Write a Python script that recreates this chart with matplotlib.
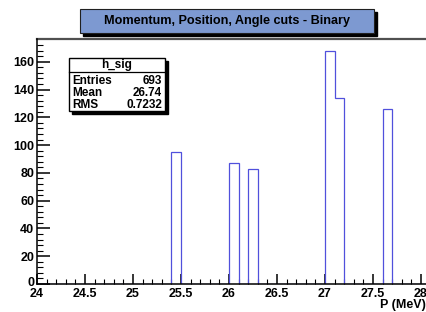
import numpy as np
import matplotlib
matplotlib.use("Agg")
import matplotlib.pyplot as plt
import matplotlib.transforms as mtransforms
from matplotlib.patches import Rectangle

plt.rcParams['font.family'] = ['Liberation Sans', 'DejaVu Sans']
plt.rcParams['font.weight'] = 'bold'

# histogram data (bins of 0.1 MeV, only the non-empty ones)
bin_low = [25.4, 26.0, 26.2, 27.0, 27.1, 27.6]
counts = [95, 87, 83, 168, 134, 126]
title = "Momentum, Position, Angle cuts - Binary"
stats_name = "h_sig"
stats_rows = [("Entries", "693"), ("Mean", "26.74"), ("RMS", "0.7232")]

W, H = 427, 312
fig = plt.figure(figsize=(W / 100, H / 100), dpi=100)
fig.patch.set_facecolor('white')

def px(x, y, w, h):
    # pixel box (top-left origin) -> figure fraction
    return [x / W, 1 - (y + h) / H, w / W, h / H]

x0, xtop, xbot = 37, 39, 284
ppu = 96.0
xmax = 28.15
ax = fig.add_axes(px(x0, xtop, (xmax - 24) * ppu, xbot - xtop))
ymax = 1.05 * max(counts)

edges = np.round(np.arange(24.0, xmax + 0.05, 0.1), 2)
full = np.zeros(len(edges) - 1)
for lo, c in zip(bin_low, counts):
    full[int(round((lo - 24.0) / 0.1))] = c
ax.stairs(full, edges, color='#5050dc', linewidth=0.9, zorder=2)

ax.set_xlim(24, xmax)
ax.set_ylim(0, ymax)

ax.spines['right'].set_visible(False)
ax.spines['top'].set_color('#505050')
ax.spines['top'].set_linewidth(1.6)
for s in ['left', 'bottom']:
    ax.spines[s].set_linewidth(1.1)
    ax.spines[s].set_zorder(3)

ax.set_xticks(np.arange(24, 28.01, 0.5))
ax.set_xticklabels(['24', '24.5', '25', '25.5', '26', '26.5', '27', '27.5', '28'])
ax.set_xticks(np.arange(24, 28.11, 0.1), minor=True)
ax.set_yticks(np.arange(0, 161, 20))
ax.set_yticks(np.arange(0, 176, 4), minor=True)
ax.tick_params(axis='both', which='major', direction='in', length=9, width=1.1,
               labelsize=9, pad=2)
ax.tick_params(axis='both', which='minor', direction='in', length=4.5, width=0.8)
ax.tick_params(axis='x', which='major', length=7, pad=3)
ax.tick_params(axis='x', which='minor', length=3.5)
ax.tick_params(top=False, right=False)
for t in ax.get_xticklabels() + ax.get_yticklabels():
    t.set_fontweight('bold')

# nudge the "0" label up a bit so it doesn't sit on "24"
fig.canvas.draw()
zero_lab = ax.get_yticklabels()[0]
zero_lab.set_transform(zero_lab.get_transform() +
                       mtransforms.ScaledTranslation(0, 3 / 100, fig.dpi_scale_trans))

fig.text(426 / W, 1 - 305 / H, "P (MeV)", ha='right', va='center',
         fontsize=9, fontweight='bold')

# title box with shadow
tx, ty, tw, th = 80, 9, 294, 24
fig.patches.append(Rectangle(px(tx + 3, ty + 3, tw, th)[:2], tw / W, th / H,
                             transform=fig.transFigure, facecolor='black',
                             edgecolor='black', zorder=5))
fig.patches.append(Rectangle(px(tx, ty, tw, th)[:2], tw / W, th / H,
                             transform=fig.transFigure, facecolor='#7d99d1',
                             edgecolor='#202020', linewidth=0.8, zorder=6))
fig.text((tx + tw / 2) / W, 1 - (ty + th / 2) / H, title, ha='center',
         va='center', fontsize=9.1, fontweight='bold', zorder=7)

# stats box with shadow
sx, sy, sw, sh = 69, 58, 96, 53
fig.patches.append(Rectangle(px(sx + 3, sy + 3, sw, sh)[:2], sw / W, sh / H,
                             transform=fig.transFigure, facecolor='black',
                             edgecolor='black', zorder=5))
fig.patches.append(Rectangle(px(sx, sy, sw, sh)[:2], sw / W, sh / H,
                             transform=fig.transFigure, facecolor='white',
                             edgecolor='black', linewidth=1.0, zorder=6))
fig.lines.append(plt.Line2D([sx / W, (sx + sw) / W], [1 - 72 / H, 1 - 72 / H],
                            transform=fig.transFigure, color='black',
                            linewidth=0.9, zorder=7))
fig.text((sx + sw / 2) / W, 1 - 65 / H, stats_name, ha='center', va='center',
         fontsize=8.5, fontweight='bold', zorder=7)
for i, (k, v) in enumerate(stats_rows):
    yy = 1 - (80.5 + 12.5 * i) / H
    fig.text((sx + 3) / W, yy, k, ha='left', va='center', fontsize=8.5,
             fontweight='bold', zorder=7)
    fig.text((sx + sw - 3) / W, yy, v, ha='right', va='center', fontsize=8.5,
             fontweight='bold', zorder=7)

fig.savefig("out.png", dpi=100)
